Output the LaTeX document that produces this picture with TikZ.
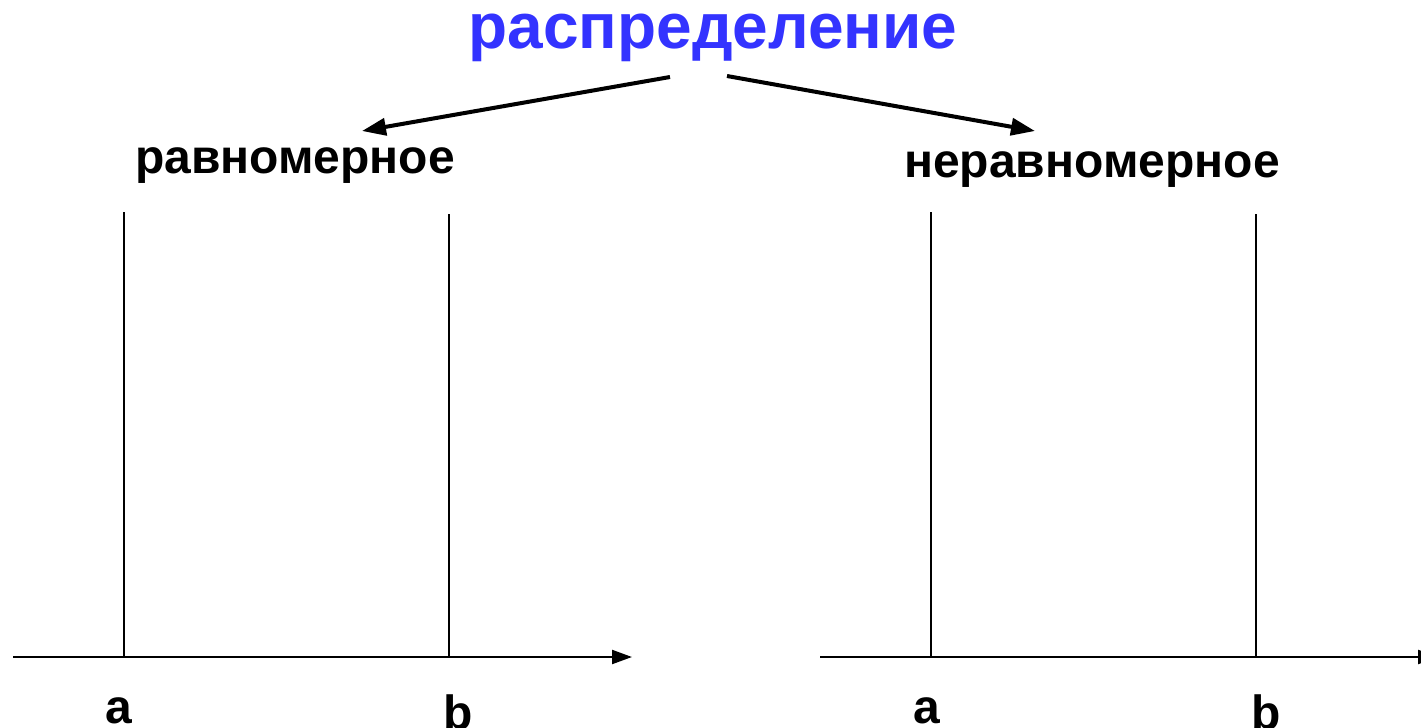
\documentclass[tikz,border=0pt]{standalone}
\usepackage{fontspec}
\setmainfont{Liberation Sans}
\usetikzlibrary{arrows.meta}
\definecolor{titleblue}{HTML}{3333FF}
\begin{document}
\begin{tikzpicture}[x=0.5pt,y=-0.5pt,
  lbl/.style={font=\fontsize{24}{28}\selectfont\bfseries, inner sep=0pt, anchor=base},
  ttl/.style={font=\fontsize{32}{36}\selectfont\bfseries, text=titleblue, inner sep=0pt, anchor=base},
  vline/.style={line width=1pt},
  axis/.style={line width=1.1pt, -{Triangle[length=10pt,width=7pt]}},
  branch/.style={line width=2pt, -{Triangle[length=12pt,width=8.5pt]}}]
\useasboundingbox (0,0) rectangle (1421,728);
\node[ttl] (title) at (713,48) {распределение};
\node[lbl] (uni) at (295,173) {равномерное};
\node[lbl] (nonuni) at (1092,177) {неравномерное};
\coordinate (s1) at (670,77);
\coordinate (s2) at (727,76);
\coordinate (t1) at (362,131);
\coordinate (t2) at (1035,131);
\draw[branch] (s1) -- (t1);
\draw[branch] (s2) -- (t2);
% left diagram
\coordinate (la0) at (13,657);
\coordinate (la1) at (632,657);
\draw[axis] (la0) -- (la1);
\coordinate (lat) at (124,212); \coordinate (lab) at (124,657);
\coordinate (lbt) at (449,214); \coordinate (lbb) at (449,657);
\draw[vline] (lat) -- (lab);
\draw[vline] (lbt) -- (lbb);
\node[lbl] (la) at (119,723) {a};
\node[lbl] (lb) at (458,729) {b};
% right diagram
\coordinate (ra0) at (820,657);
\coordinate (ra1) at (1438,657);
\draw[axis] (ra0) -- (ra1);
\coordinate (rat) at (931,212); \coordinate (rab) at (931,657);
\coordinate (rbt) at (1256,214); \coordinate (rbb) at (1256,657);
\draw[vline] (rat) -- (rab);
\draw[vline] (rbt) -- (rbb);
\node[lbl] (ra) at (927,723) {a};
\node[lbl] (rb) at (1266,729) {b};
\end{tikzpicture}
\end{document}
